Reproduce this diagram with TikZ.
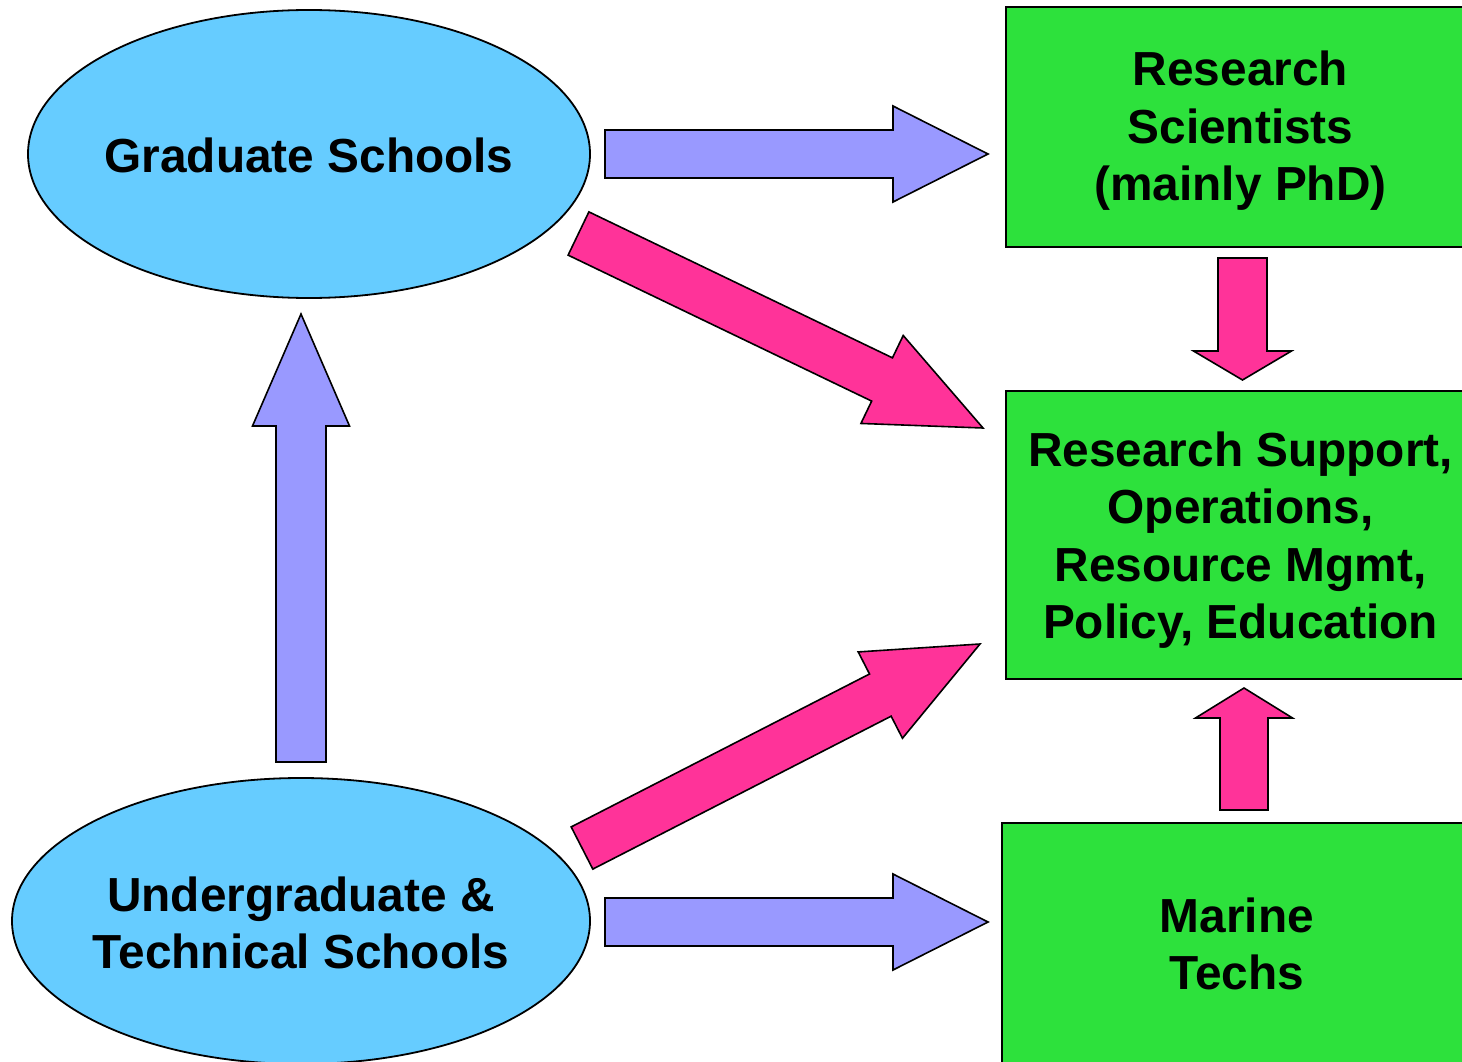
\documentclass[tikz,border=0pt]{standalone}
\usepackage{fontspec}
\setmainfont{Liberation Sans}
\usetikzlibrary{shapes.geometric,calc}
\definecolor{ellblue}{HTML}{66CCFF}
\definecolor{boxgreen}{RGB}{45,225,60}
\definecolor{arrblue}{HTML}{9999FF}
\definecolor{arrpink}{HTML}{FF3399}
\tikzset{
  school/.style={ellipse, draw=black, line width=1.8pt, fill=ellblue, inner sep=0pt},
  jobbox/.style={rectangle, draw=black, line width=1.8pt, fill=boxgreen, inner sep=0pt,
    minimum width=469pt},
  labeltext/.style={inner sep=0pt, align=center, font=\fontsize{47.8}{57.5}\selectfont\bfseries},
  blockarr/.style={draw=black, line width=1.6pt, line join=miter},
}
% \blockarrow[style]{from}{to}{shaft half width}{head half width}{head length}
\newcommand{\blockarrow}[6][]{%
  \coordinate (ba-h) at ($(#3)!#6!(#2)$);
  \draw[blockarr,#1] ($(#2)!#4!-90:(#3)$) -- ($(ba-h)!#4!-90:(#3)$) -- ($(ba-h)!#5!-90:(#3)$)
    -- (#3) -- ($(ba-h)!#5!90:(#3)$) -- ($(ba-h)!#4!90:(#3)$) -- ($(#2)!#4!90:(#3)$) -- cycle;
}
\begin{document}
\begin{tikzpicture}[x=1pt,y=-1pt]
\useasboundingbox (0,0) rectangle (1462,1062);
\clip (0,0) rectangle (1462,1062);
\fill[white] (0,0) rectangle (1462,1062);

% shapes
\node[school, minimum width=562pt, minimum height=288pt] (grad) at (309,154) {};
\node[school, minimum width=578pt, minimum height=286pt] (under) at (301,921) {};
\node[jobbox, minimum height=240pt] (sci) at (1240.5,127) {};
\node[jobbox, minimum height=288pt] (support) at (1240.5,535) {};
\node[jobbox, minimum height=240pt, minimum width=470pt] (techs) at (1237,943) {};

% texts
\node[labeltext] (grad-t) at ($(grad)+(0,1)$) {Graduate Schools};
\node[labeltext] (under-t) at ($(under)+(0,2)$) {Undergraduate \&\\Technical Schools};
\node[labeltext] (sci-t) at ($(sci)+(0,4)$) {Research\\Scientists\\(mainly PhD)};
\node[labeltext] (support-t) at ($(support)+(0,5)$) {Research Support,\\Operations,\\Resource Mgmt,\\Policy, Education};
\node[labeltext] (techs-t) at ($(techs)+(0,1)$) {Marine\\Techs};

% arrow end points
\coordinate (g-s-a) at (605,154);   \coordinate (g-s-b) at (988,154);
\coordinate (u-t-a) at (605,922);   \coordinate (u-t-b) at (988,922);
\coordinate (u-g-a) at (301,762);   \coordinate (u-g-b) at (301,314);
\coordinate (g-r-a) at (578.5,233.5); \coordinate (g-r-b) at (983,428);
\coordinate (u-r-a) at (582,848);   \coordinate (u-r-b) at (980,644);
\coordinate (s-r-a) at (1242.5,258); \coordinate (s-r-b) at (1242.5,380);
\coordinate (t-r-a) at (1244,810);  \coordinate (t-r-b) at (1244,688);

% block arrows
\blockarrow[fill=arrblue]{g-s-a}{g-s-b}{24pt}{48pt}{95pt}
\blockarrow[fill=arrblue]{u-t-a}{u-t-b}{24pt}{48pt}{95pt}
\blockarrow[fill=arrblue]{u-g-a}{u-g-b}{25pt}{48.5pt}{112pt}
\blockarrow[fill=arrpink]{g-r-a}{g-r-b}{24pt}{48.8pt}{112pt}
\blockarrow[fill=arrpink]{u-r-a}{u-r-b}{23.7pt}{48.5pt}{112pt}
\blockarrow[fill=arrpink]{s-r-a}{s-r-b}{24.5pt}{49pt}{29pt}
\blockarrow[fill=arrpink]{t-r-a}{t-r-b}{24pt}{48.5pt}{30pt}
\end{tikzpicture}
\end{document}
